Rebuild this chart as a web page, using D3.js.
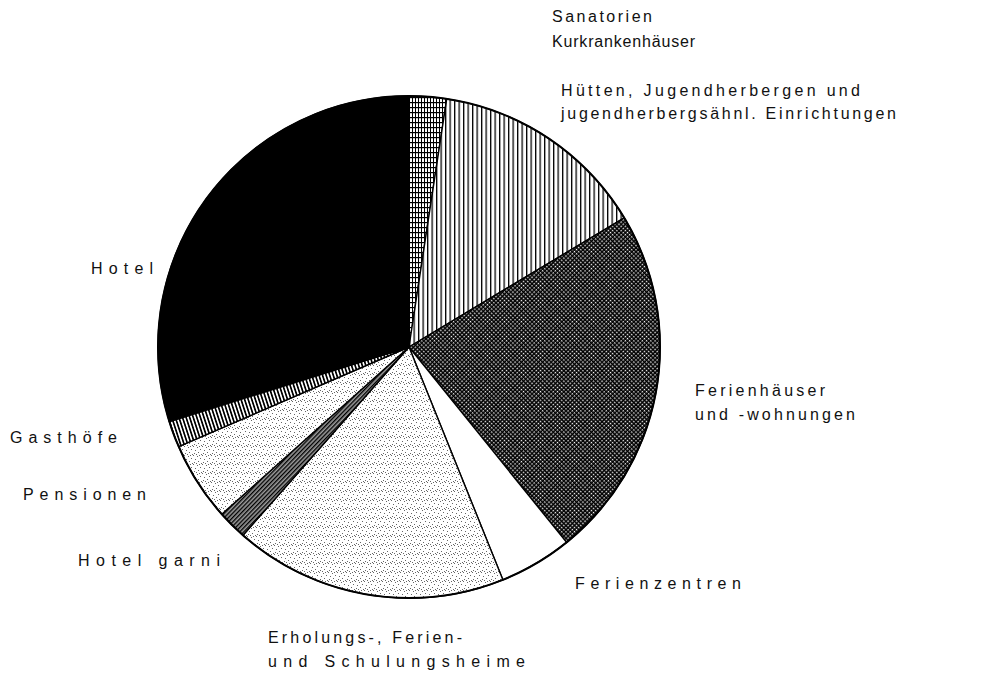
<!DOCTYPE html>
<meta charset="utf-8">
<style>
body { margin: 0; background: #fff; }
text { font-family: "Liberation Sans", Arial, sans-serif; font-size: 16px; fill: #111; }
</style>
<svg width="1002" height="675"></svg>
<script src="https://d3js.org/d3.v7.min.js"></script>
<script>

// shares of beds by type of establishment (%), clockwise from 12 o'clock
var categories = ["Sanatorien", "Huetten", "Ferienhaeuser", "Ferienzentren",
                  "Erholungsheime", "HotelGarni", "Pensionen", "Gasthoefe", "Hotel"];
var values = [2.4, 14.0, 22.8, 4.7, 17.6, 1.9, 5.1, 1.7, 29.8];
var labelLines = [
  ["Sanatorien", "Kurkrankenhäuser"],
  ["Hütten, Jugendherbergen und", "jugendherbergsähnl. Einrichtungen"],
  ["Ferienhäuser", "und -wohnungen"],
  ["Ferienzentren"],
  ["Erholungs-, Ferien-", "und Schulungsheime"],
  ["Hotel garni"],
  ["Pensionen"],
  ["Gasthöfe"],
  ["Hotel"]
];

var svg = d3.select("svg"),
    cx = 409, cy = 347, r = 251;

// label placement: x, first baseline, line gap, widths of each line
var labelPos = [
  {x: 552, y: 22, dy: 25, w: [100, 143]},
  {x: 561, y: 96, dy: 23, w: [299, 335]},
  {x: 695, y: 396, dy: 24, w: [130, 160]},
  {x: 575, y: 589, dy: 0, w: [166]},
  {x: 268, y: 643, dy: 24, w: [194, 257]},
  {x: 78, y: 566, dy: 0, w: [142]},
  {x: 23, y: 500, dy: 0, w: [123]},
  {x: 10, y: 443, dy: 0, w: [107]},
  {x: 91, y: 274, dy: 0, w: [62]}
];

var defs = svg.append("defs");

function pat(id, w, h, transform) {
  var p = defs.append("pattern").attr("id", id)
      .attr("patternUnits", "userSpaceOnUse")
      .attr("width", w).attr("height", h);
  if (transform) p.attr("patternTransform", transform);
  return p;
}

// fine grid
var p1 = pat("grid", 3, 5);
p1.append("rect").attr("width", 3).attr("height", 5).attr("fill", "#fff");
p1.append("rect").attr("x", 0).attr("width", 1).attr("height", 5).attr("fill", "#000");
p1.append("rect").attr("y", 0).attr("width", 3).attr("height", 1.2).attr("fill", "#000");

// vertical lines
var p2 = pat("vlines", 4.5, 4);
p2.append("rect").attr("width", 4.5).attr("height", 4).attr("fill", "#fff");
p2.append("rect").attr("width", 1.3).attr("height", 4).attr("fill", "#000");

// dense lines, across the slice
var p3 = pat("vlines2", 3.4, 4, "rotate(-18)");
p3.append("rect").attr("width", 3.4).attr("height", 4).attr("fill", "#fff");
p3.append("rect").attr("width", 1.7).attr("height", 4).attr("fill", "#000");

// dark checker
var p4 = pat("checker", 3, 3, "rotate(45)");
p4.append("rect").attr("width", 3).attr("height", 3).attr("fill", "#000");
p4.append("rect").attr("x", 1).attr("y", 1).attr("width", 1.4).attr("height", 1.4).attr("fill", "#fff");

// light stipple
var p5 = pat("stipple", 9, 9);
p5.append("rect").attr("width", 9).attr("height", 9).attr("fill", "#fff");
[[0,0],[4,1],[7,3],[2,4],[5,6],[1,7],[8,8],[6,0],[3,8]].forEach(function(d) {
  p5.append("rect").attr("x", d[0]).attr("y", d[1]).attr("width", 1).attr("height", 1).attr("fill", "#666");
});

// black with white lines along the radius
var p6 = pat("diag", 3, 6, "rotate(44)");
p6.append("rect").attr("width", 3).attr("height", 6).attr("fill", "#000");
p6.append("rect").attr("x", 1.6).attr("width", 1).attr("height", 6).attr("fill", "#fff");

var fills = ["url(#grid)", "url(#vlines)", "url(#checker)", "#fff",
             "url(#stipple)", "url(#diag)", "url(#stipple)", "url(#vlines2)", "#000"];

var pie = d3.pie().sort(null).value(function(d) { return d; });
var arc = d3.arc().innerRadius(0).outerRadius(r);

var g = svg.append("g").attr("transform", "translate(" + cx + "," + cy + ")");

g.selectAll("path.slice")
  .data(pie(values))
  .enter().append("path")
    .attr("class", "slice")
    .attr("d", arc)
    .attr("fill", function(d, i) { return fills[i]; })
    .attr("stroke", "#000")
    .attr("stroke-width", 1.4)
    .attr("stroke-linejoin", "round");

g.append("circle").attr("r", r).attr("fill", "none")
  .attr("stroke", "#000").attr("stroke-width", 2);

var labels = svg.append("g");
labelLines.forEach(function(lines, i) {
  var lp = labelPos[i];
  lines.forEach(function(t, j) {
    labels.append("text")
      .attr("x", lp.x)
      .attr("y", lp.y + j * lp.dy)
      .attr("textLength", lp.w[j])
      .attr("lengthAdjust", "spacing")
      .text(t);
  });
});

</script>
